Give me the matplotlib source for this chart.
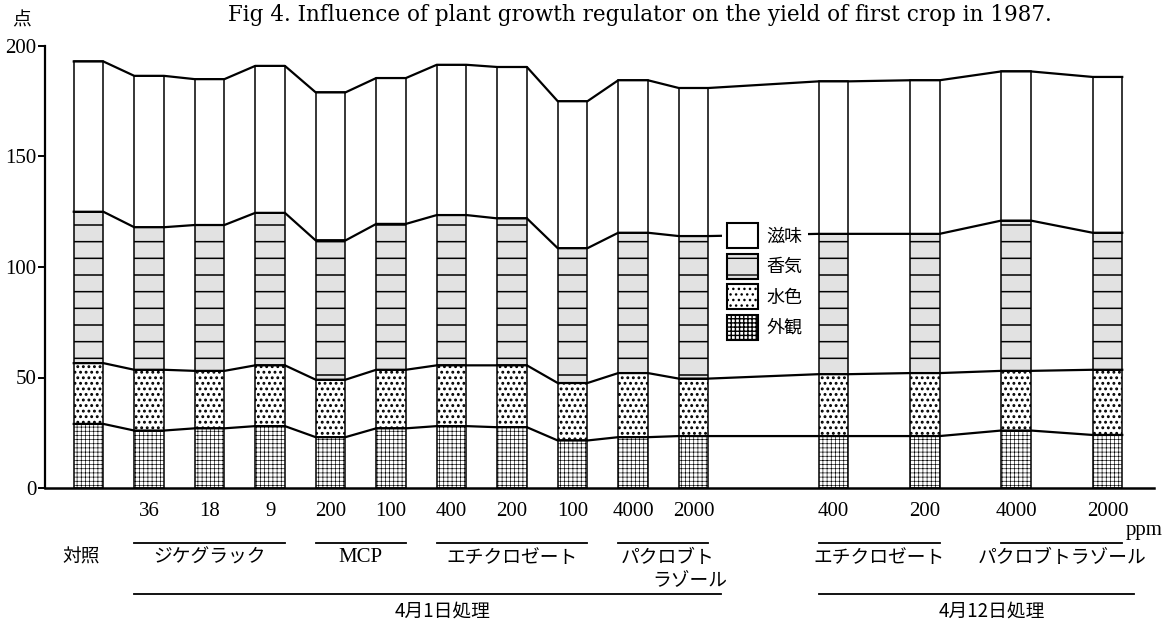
import matplotlib.pyplot as plt
import matplotlib.patches as mpatches
import matplotlib.transforms as mtransforms
import numpy as np

plt.rcParams['font.family'] = ['Liberation Serif', 'Noto Sans CJK JP', 'DejaVu Sans']

# scores per plot (first bar = control), four quality items stacked
doses = ['', '36', '18', '9', '200', '100', '400', '200', '100', '4000', '2000',
         '400', '200', '4000', '2000']
gaikan = [29, 26, 27, 28, 23, 27, 28, 27.5, 21.5, 23, 23.5, 23.5, 23.5, 26, 24]
suishoku = [27.5, 27.5, 26, 27.5, 26, 26.5, 27.5, 28, 26, 29, 26, 28, 28.5, 27, 29.5]
kouki = [68.5, 64.5, 66, 69, 63, 66, 68, 66.5, 61, 63.5, 64.5, 63.5, 63, 68, 62]
jimi = [68, 68.5, 66, 66.5, 67, 66, 68, 68.5, 66.5, 69, 67, 69, 69.5, 67.5, 70.5]
layer_names = ['外観', '水色', '香気', '滋味']

chem_groups = [('ジケグラック', 1, 3), ('MCP', 4, 5), ('エチクロゼート', 6, 8),
               ('パクロブト', 9, 10), ('エチクロゼート', 11, 12), ('パクロブトラゾール', 13, 14)]
date_groups = [('4月1日処理', 1, 10), ('4月12日処理', 11, 14)]

W, H = 1171, 623
fig = plt.figure(figsize=(W / 100, H / 100), dpi=100)
ax = fig.add_axes([45 / W, (H - 488) / H, (1154 - 45) / W, 442 / H])

x = np.r_[np.arange(11), 12.31 + 1.51 * np.arange(4)]
w = 0.49

# (face, hatch, hatch linewidth) per layer
styles = [('white', '++++', 0.45),
          ('white', '...', 1.3),
          ('#e2e2e2', '-', 1.1),
          ('white', None, 0.8)]

layers = [gaikan, suishoku, kouki, jimi]
bottom = np.zeros(len(x))
handles = []
xs = np.column_stack([x - w / 2, x + w / 2]).ravel()
for vals, name, (fc, hatch, hlw) in zip(layers, layer_names, styles):
    vals = np.array(vals)
    with plt.rc_context({'hatch.linewidth': hlw}):
        ax.bar(x, vals, bottom=bottom, width=w, facecolor=fc, hatch=hatch,
               edgecolor='black', linewidth=1.1, zorder=2)
        handles.append(mpatches.Patch(facecolor=fc, hatch=hatch, edgecolor='black',
                                      linewidth=1.5, label=name))
    bottom = bottom + vals
    ax.plot(xs, np.repeat(bottom, 2), color='black', lw=1.6, zorder=3)

ax.set_xlim(-0.72, 17.61)
ax.set_ylim(0, 200)
ax.set_yticks([0, 50, 100, 150, 200])
ax.tick_params(axis='y', direction='out', length=5, width=1.4, pad=1, labelsize=15)
ax.set_xticks([])
for s in ['top', 'right']:
    ax.spines[s].set_visible(False)
ax.spines['left'].set_linewidth(1.6)
ax.spines['bottom'].set_linewidth(1.8)

leg = ax.legend(handles=handles[::-1], loc='upper left',
                bbox_to_anchor=(722 / W, 1 - 218 / H), bbox_transform=fig.transFigure,
                prop={'family': 'Noto Sans CJK JP', 'size': 13}, frameon=True,
                fancybox=False, edgecolor='none', facecolor='white', framealpha=1,
                borderpad=0.3, borderaxespad=0, handlelength=1.7, handleheight=1.75,
                labelspacing=0.3, handletextpad=0.45)
leg.set_zorder(6)

# labels under the chart
tr = mtransforms.blended_transform_factory(ax.transData, fig.transFigure)
fy = lambda py: 1 - py / H
jp = dict(family='Noto Sans CJK JP', size=13.5)

for xi, d in zip(x, doses):
    ax.text(xi, fy(511), d, transform=tr, ha='center', va='center', fontsize=15)
ax.text(17.45, fy(531), 'ppm', transform=tr, ha='center', va='center', fontsize=15)

ax.text(x[0] - 0.12, fy(557), '対照', transform=tr, ha='center', va='center', **jp)
for label, i0, i1 in chem_groups:
    ax.plot([x[i0] - w / 2, x[i1] + w / 2], [fy(543)] * 2, transform=tr, color='black',
            lw=1.3, clip_on=False)
    xc = (x[i0] + x[i1]) / 2
    if label == 'MCP':
        ax.text(xc, fy(558), label, transform=tr, ha='center', va='center', fontsize=15)
    elif label == 'パクロブト':
        ax.text(xc + 0.07, fy(557), label, transform=tr, ha='center', va='center', **jp)
        ax.text(xc + 0.43, fy(580), 'ラゾール', transform=tr, ha='center', va='center', **jp)
    else:
        ax.text(xc, fy(557), label, transform=tr, ha='center', va='center', **jp)

for label, i0, i1 in date_groups:
    x0, x1 = x[i0] - w / 2, x[i1] + w / 2 + 0.2
    ax.plot([x0, x1], [fy(594)] * 2, transform=tr, color='black', lw=1.3, clip_on=False)
    ax.text((x0 + x1) / 2 + 0.25, fy(611), label, transform=tr, ha='center', va='center', **jp)

fig.text(22 / W, fy(20), '点', ha='center', va='center', **jp)
fig.text(640 / W, fy(15), 'Fig 4. Influence of plant growth regulator on the yield of first crop in 1987.',
         ha='center', va='center', family='DejaVu Serif', fontsize=15.5)

fig.savefig('out.png', dpi=100)
